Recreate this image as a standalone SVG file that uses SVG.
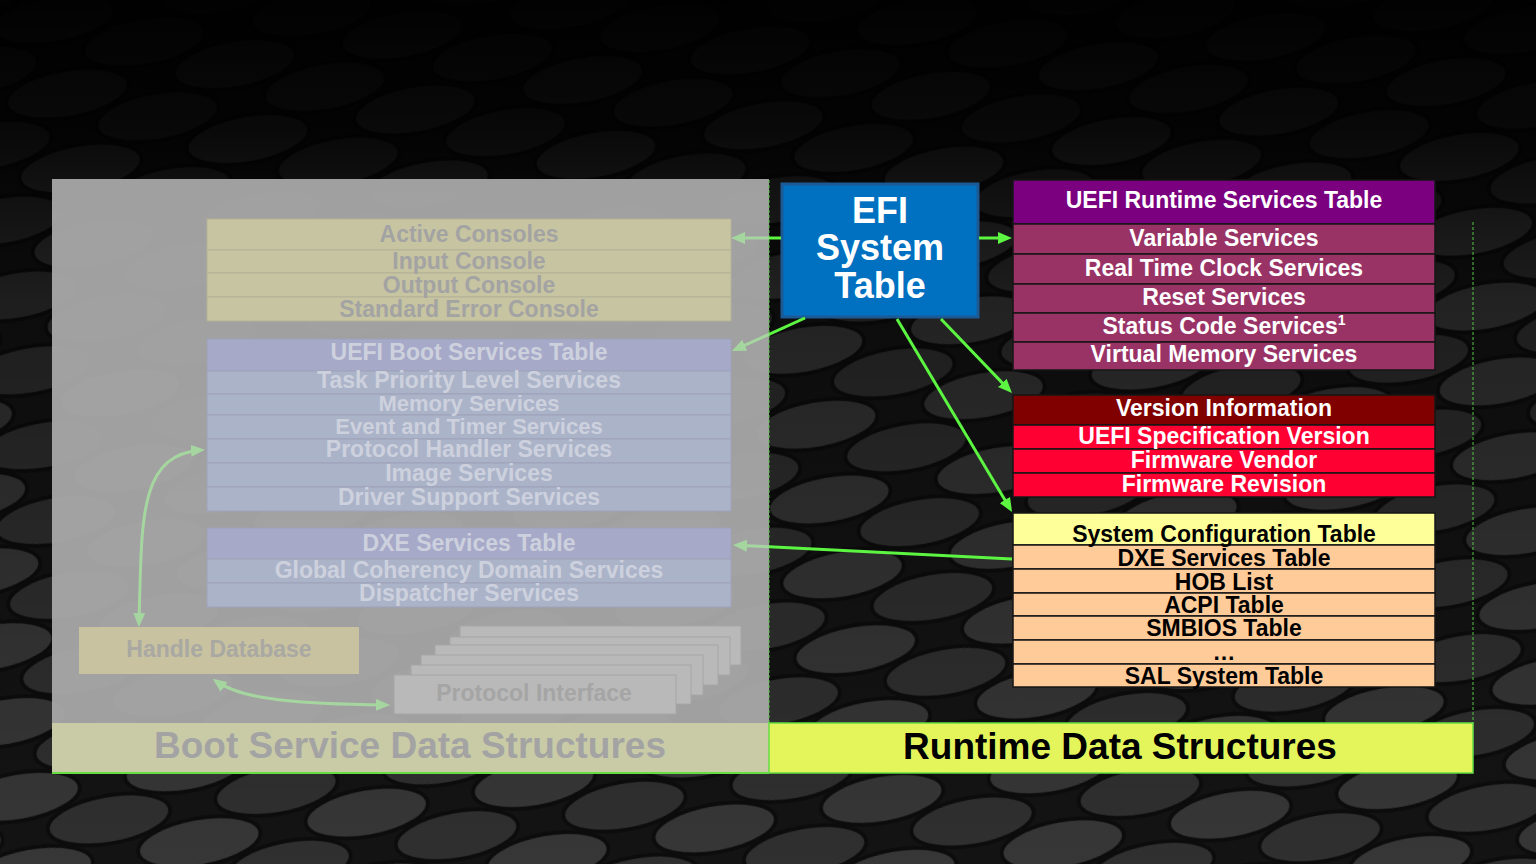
<svg xmlns="http://www.w3.org/2000/svg" width="1536" height="864" viewBox="0 0 1536 864">
<style>
.t{font-family:"Liberation Sans",Arial,sans-serif;font-weight:bold;font-size:23px;text-anchor:middle}
.w{fill:#ffffff}.k{fill:#000000}.fg{fill:#a3a3a3}.fl{fill:#cdd1dd}
.kh{fill:#c7c4a1;stroke:#b3b198;stroke-width:1}
.bh{fill:#a7a9c9;stroke:#9ea2b8;stroke-width:1}
.br{fill:#abb3c9;stroke:#9ea2b8;stroke-width:1}
.pr{fill:#b9b9b9;stroke:#a6a6a6;stroke-width:1}
.rt{stroke:#161616;stroke-width:1.5}
.bright{stroke:#5cf542;stroke-width:3;fill:none}
.faded{stroke:#a6d6a0;stroke-width:3;fill:none}
</style>
<defs>
<pattern id="pills" width="170" height="76" patternUnits="userSpaceOnUse" patternTransform="rotate(-10)">
<rect width="170" height="76" fill="#161616"/>
<g stroke="#0e0e0e" stroke-width="4">
<ellipse cx="135" cy="66" rx="62" ry="24" fill="#363636"/>
<ellipse cx="-35" cy="66" rx="62" ry="24" fill="#363636"/>
<ellipse cx="135" cy="-10" rx="62" ry="24" fill="#363636"/>
<ellipse cx="-35" cy="-10" rx="62" ry="24" fill="#363636"/>
<ellipse cx="50" cy="28" rx="62" ry="24" fill="#3e3e3e"/>
<ellipse cx="220" cy="28" rx="62" ry="24" fill="#3e3e3e"/>
</g>
</pattern>
<linearGradient id="fade" x1="0" y1="0" x2="0" y2="1">
<stop offset="0" stop-color="#000" stop-opacity="0.97"/>
<stop offset="0.15" stop-color="#000" stop-opacity="0.85"/>
<stop offset="0.35" stop-color="#000" stop-opacity="0.45"/>
<stop offset="0.7" stop-color="#000" stop-opacity="0.25"/>
<stop offset="1" stop-color="#000" stop-opacity="0.12"/>
</linearGradient>
<marker id="ab" markerUnits="userSpaceOnUse" markerWidth="14" markerHeight="12" viewBox="0 0 14 12" refX="10" refY="6" orient="auto-start-reverse">
<path d="M0,0 L14,6 L0,12 z" fill="#5cf542"/>
</marker>
<marker id="af" markerUnits="userSpaceOnUse" markerWidth="14" markerHeight="12" viewBox="0 0 14 12" refX="10" refY="6" orient="auto-start-reverse">
<path d="M0,0 L14,6 L0,12 z" fill="#a6d6a0"/>
</marker>
</defs>

<g id="background">
<rect width="1536" height="864" fill="url(#pills)"/>
<rect width="1536" height="864" fill="url(#fade)"/>
</g>

<g id="boot-panel">
<rect x="52" y="179" width="717" height="544" fill="#a9a9a9" opacity="0.95"/>
<rect x="52" y="723" width="717" height="50" fill="#c9cba7"/>
<line x1="52" y1="773" x2="769" y2="773" stroke="#66dd44" stroke-width="2"/>
<text class="t fg" x="410" y="758" style="font-size:37px">Boot Service Data Structures</text>
</g>

<g id="runtime-panel">
<line x1="769" y1="180" x2="769" y2="723" stroke="#55cc44" stroke-width="1" stroke-dasharray="3 2"/>
<line x1="1473" y1="222" x2="1473" y2="723" stroke="#55cc44" stroke-width="1" stroke-dasharray="3 2"/>
<rect x="769" y="723" width="704" height="50" fill="#e4f55c" stroke="#66dd44" stroke-width="1.5"/>
<text class="t k" x="1120" y="759" style="font-size:37px">Runtime Data Structures</text>
</g>

<g id="active-consoles">
<rect class="kh" x="207" y="219" width="524" height="31"/>
<rect class="kh" x="207" y="250" width="524" height="23"/>
<rect class="kh" x="207" y="273" width="524" height="24"/>
<rect class="kh" x="207" y="297" width="524" height="24"/>
<text class="t fg" x="469" y="242">Active Consoles</text>
<text class="t fg" x="469" y="269">Input Console</text>
<text class="t fg" x="469" y="293">Output Console</text>
<text class="t fg" x="469" y="317">Standard Error Console</text>
</g>

<g id="boot-services-table">
<rect class="bh" x="207" y="339" width="524" height="32"/>
<rect class="br" x="207" y="371" width="524" height="23"/>
<rect class="br" x="207" y="394" width="524" height="21"/>
<rect class="br" x="207" y="415" width="524" height="24"/>
<rect class="br" x="207" y="439" width="524" height="24"/>
<rect class="br" x="207" y="463" width="524" height="24"/>
<rect class="br" x="207" y="487" width="524" height="24"/>
<text class="t fl" x="469" y="360">UEFI Boot Services Table</text>
<text class="t fl" x="469" y="388">Task Priority Level Services</text>
<text class="t fl" x="469" y="411" style="font-size:22px">Memory Services</text>
<text class="t fl" x="469" y="434" style="font-size:22px">Event and Timer Services</text>
<text class="t fl" x="469" y="457">Protocol Handler Services</text>
<text class="t fl" x="469" y="481">Image Services</text>
<text class="t fl" x="469" y="505">Driver Support Services</text>
</g>

<g id="dxe-services-table">
<rect class="bh" x="207" y="528" width="524" height="31"/>
<rect class="br" x="207" y="559" width="524" height="24"/>
<rect class="br" x="207" y="583" width="524" height="24"/>
<text class="t fl" x="469" y="551">DXE Services Table</text>
<text class="t fl" x="469" y="578">Global Coherency Domain Services</text>
<text class="t fl" x="469" y="601">Dispatcher Services</text>
</g>

<g id="handle-database">
<rect x="79" y="627" width="280" height="47" fill="#c8c2a1"/>
<text class="t" x="219" y="657" style="fill:#a9a8a2">Handle Database</text>
</g>

<g id="protocol-interface">
<rect class="pr" x="460" y="626" width="281" height="39"/>
<rect class="pr" x="450" y="637" width="280" height="38"/>
<rect class="pr" x="435" y="645" width="283" height="40"/>
<rect class="pr" x="421" y="655" width="282" height="40"/>
<rect class="pr" x="411" y="665" width="280" height="39"/>
<rect class="pr" x="394" y="675" width="282" height="39"/>
<text class="t" x="534" y="701" style="fill:#a5a5a5">Protocol Interface</text>
</g>

<g id="efi-system-table">
<rect x="782" y="184" width="196" height="133" fill="#0070c0" stroke="#1c5a96" stroke-width="3"/>
<text class="t w" x="880" y="223" style="font-size:36px">EFI</text>
<text class="t w" x="880" y="260" style="font-size:36px">System</text>
<text class="t w" x="880" y="298" style="font-size:36px">Table</text>
</g>

<g id="runtime-services-table">
<rect class="rt" x="1013" y="180" width="422" height="44" fill="#7a0080"/>
<rect class="rt" x="1013" y="224" width="422" height="30" fill="#993366"/>
<rect class="rt" x="1013" y="254" width="422" height="30" fill="#993366"/>
<rect class="rt" x="1013" y="284" width="422" height="29" fill="#993366"/>
<rect class="rt" x="1013" y="313" width="422" height="29" fill="#993366"/>
<rect class="rt" x="1013" y="342" width="422" height="28" fill="#993366"/>
<text class="t w" x="1224" y="208">UEFI Runtime Services Table</text>
<text class="t w" x="1224" y="246">Variable Services</text>
<text class="t w" x="1224" y="276">Real Time Clock Services</text>
<text class="t w" x="1224" y="305">Reset Services</text>
<text class="t w" x="1224" y="334">Status Code Services<tspan dy="-9" style="font-size:14px">1</tspan></text>
<text class="t w" x="1224" y="362">Virtual Memory Services</text>
</g>

<g id="version-information">
<rect class="rt" x="1013" y="395" width="422" height="30" fill="#800000"/>
<rect class="rt" x="1013" y="425" width="422" height="24" fill="#ff0033"/>
<rect class="rt" x="1013" y="449" width="422" height="24" fill="#ff0033"/>
<rect class="rt" x="1013" y="473" width="422" height="24" fill="#ff0033"/>
<text class="t w" x="1224" y="416">Version Information</text>
<text class="t w" x="1224" y="444">UEFI Specification Version</text>
<text class="t w" x="1224" y="468">Firmware Vendor</text>
<text class="t w" x="1224" y="492">Firmware Revision</text>
</g>

<g id="system-configuration-table">
<rect class="rt" x="1013" y="513" width="422" height="32" fill="#ffff99"/>
<rect class="rt" x="1013" y="545" width="422" height="24" fill="#ffcc99"/>
<rect class="rt" x="1013" y="569" width="422" height="24" fill="#ffcc99"/>
<rect class="rt" x="1013" y="593" width="422" height="23" fill="#ffcc99"/>
<rect class="rt" x="1013" y="616" width="422" height="24" fill="#ffcc99"/>
<rect class="rt" x="1013" y="640" width="422" height="24" fill="#ffcc99"/>
<rect class="rt" x="1013" y="664" width="422" height="23" fill="#ffcc99"/>
<text class="t k" x="1224" y="542">System Configuration Table</text>
<text class="t k" x="1224" y="566">DXE Services Table</text>
<text class="t k" x="1224" y="590">HOB List</text>
<text class="t k" x="1224" y="613">ACPI Table</text>
<text class="t k" x="1224" y="636">SMBIOS Table</text>
<text class="t k" x="1224" y="660">…</text>
<text class="t k" x="1224" y="684">SAL System Table</text>
</g>

<g id="connectors">
<line class="bright" x1="781" y1="238" x2="769" y2="238"/>
<line class="faded" x1="769" y1="238" x2="735" y2="238" marker-end="url(#af)"/>
<line class="bright" x1="805" y1="318" x2="769" y2="334.3"/>
<line class="faded" x1="769" y1="334.3" x2="735.6" y2="349.4" marker-end="url(#af)"/>
<line class="bright" x1="979" y1="238" x2="1008" y2="238" marker-end="url(#ab)"/>
<line class="bright" x1="941" y1="319" x2="1009.2" y2="390.1" marker-end="url(#ab)"/>
<line class="bright" x1="897" y1="319" x2="1010" y2="508.6" marker-end="url(#ab)"/>
<line class="bright" x1="1012" y1="559" x2="769" y2="546.8"/>
<line class="faded" x1="769" y1="546.8" x2="737" y2="545.2" marker-end="url(#af)"/>
<path class="faded" d="M139,623 C142,520 138,455 201,450" marker-start="url(#af)" marker-end="url(#af)"/>
<path class="faded" d="M216,681 C242,700 300,704 386,705" marker-start="url(#af)" marker-end="url(#af)"/>
</g>
</svg>
